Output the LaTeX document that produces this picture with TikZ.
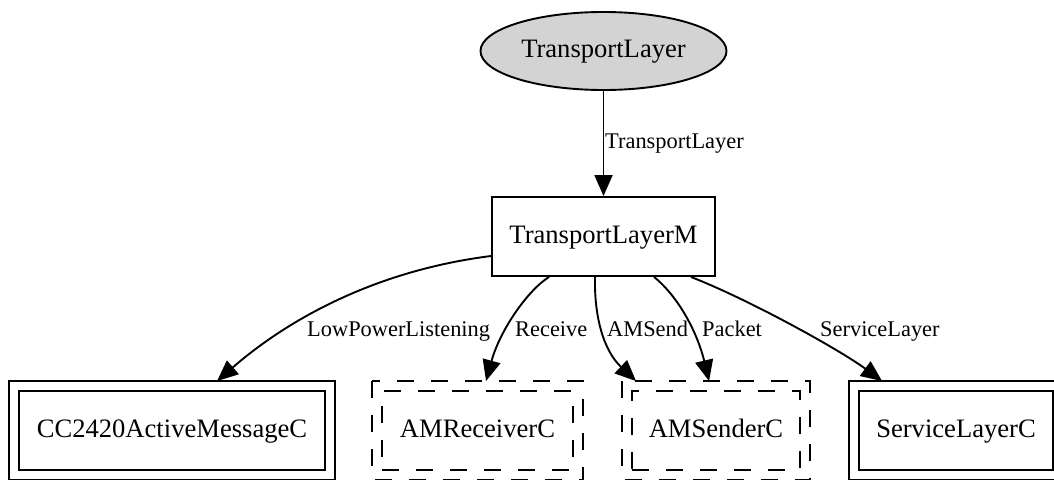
\documentclass[tikz,border=0pt]{standalone}
\usepackage{fontspec}
\setmainfont{Liberation Serif}
\usetikzlibrary{shapes.geometric,arrows.meta,calc}
\newcommand\nodefs{\fontsize{26.6}{32}\selectfont}
\newcommand\lblfs{\fontsize{22.4}{27}\selectfont}
\definecolor{nodegray}{HTML}{D3D3D3}
\begin{document}
\begin{tikzpicture}[x=1pt,y=-1pt,
  pen/.style={line width=1.9pt},
  box/.style={pen, draw, rectangle, inner sep=0pt, font=\nodefs,
    text height=18.6pt, text depth=4.8pt, minimum height=79pt},
  dbox/.style={box, dash pattern=on 17pt off 17pt},
  ell/.style={pen, draw, ellipse, fill=nodegray, inner sep=0pt, font=\nodefs,
    text height=18.6pt, text depth=4.8pt, minimum width=246pt, minimum height=78pt},
  lbl/.style={font=\lblfs, inner sep=0pt, anchor=base west},
  arr/.style={pen, -{Triangle[length=21pt,width=18pt]}}]
\useasboundingbox (0,0) rectangle (1054,479);

% nodes
\node[ell] (tl) at (603.5,51) {TransportLayer};
\node[box, minimum width=223pt] (tlm) at (603.5,236.5) {TransportLayerM};
\node[box, minimum width=306pt] (cc) at (172,430.5) {CC2420ActiveMessageC};
\node[dbox, minimum width=191pt] (amr) at (477.5,430.5) {AMReceiverC};
\node[dbox, minimum width=168pt] (ams) at (716,430.5) {AMSenderC};
\node[box, minimum width=194pt] (sl) at (956,430.5) {ServiceLayerC};

% second periphery of the component boxes
\draw[pen] ($(cc.north west)+(-9,-9)$) rectangle ($(cc.south east)+(9,9)$);
\draw[pen, dash pattern=on 17pt off 17pt] ($(amr.north west)+(-9,-9)$) rectangle ($(amr.south east)+(9,9)$);
\draw[pen, dash pattern=on 17pt off 17pt] ($(ams.north west)+(-9,-9)$) rectangle ($(ams.south east)+(9,9)$);
\draw[pen] ($(sl.north west)+(-9,-9)$) rectangle ($(sl.south east)+(9,9)$);

% connectors
\draw[arr] (tl.south) -- (tlm.north);
\draw[arr] ($(tlm.west)+(0,19.5)$) .. controls (380,270) and (292,316) .. ($(cc.north west)+(199,-9)$);
\draw[arr] ($(tlm.south west)+(58,0)$) .. controls (528,290) and (500,330) .. ($(amr.north west)+(105,-9)$);
\draw[arr] ($(tlm.south west)+(104,0)$) .. controls (594,315) and (603,350) .. ($(ams.north west)+(5,-9)$);
\draw[arr] ($(tlm.south west)+(163,0)$) .. controls (680,298) and (698,335) .. ($(ams.north west)+(78,-9)$);
\draw[arr] ($(tlm.south east)+(-25,0)$) .. controls (750,300) and (840,350) .. ($(sl.north west)+(24,-9)$);

% connector labels
\node[lbl] (ltl) at (605,148) {TransportLayer};
\node[lbl] (llpl) at (307,336) {LowPowerListening};
\node[lbl] (lrcv) at (515,336) {Receive};
\node[lbl] (lams) at (607,336) {AMSend};
\node[lbl] (lpkt) at (702,336) {Packet};
\node[lbl] (lsl) at (820,336) {ServiceLayer};
\end{tikzpicture}
\end{document}
